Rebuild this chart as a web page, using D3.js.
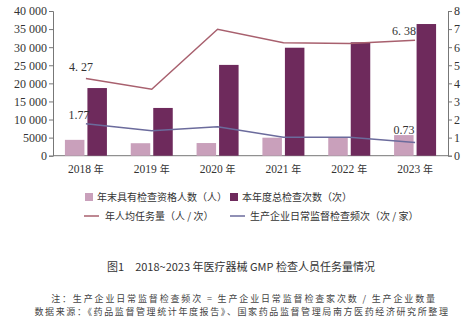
<!DOCTYPE html>
<html><head><meta charset="utf-8">
<script src="https://cdn.jsdelivr.net/npm/d3@7"></script>
<style>body{margin:0;background:#fff;} svg{display:block;}</style>
</head><body>
<svg id="c" width="465" height="326"></svg>
<script>
const years = ["2018 年","2019 年","2020 年","2021 年","2022 年","2023 年"];
const inspectors = [4380, 3450, 3500, 4980, 4980, 5700];
const inspections = [18700, 13200, 25100, 29850, 31350, 36400];
const perCapita = [4.27, 3.67, 6.99, 6.25, 6.20, 6.38];
const frequency = [1.77, 1.38, 1.60, 1.02, 1.02, 0.73];
const leftTicks = [0,5000,10000,15000,20000,25000,30000,35000,40000];
const rightTicks = [0,1,2,3,4,5,6,7,8];

const svg = d3.select("#c");
const L = 53, R = 448, T = 11, B = 155.7;
const serif = "Liberation Serif, DejaVu Serif, serif";
const cjk = "Noto Sans CJK SC, Noto Sans, sans-serif";
const cLight = "#c9a0bb", cDark = "#6e2a5c", cRed = "#a8606e", cBlue = "#6b6b9c", axisC = "#777";

const x = d3.scaleBand().domain(years).range([L, R]).padding(0);
const yL = d3.scaleLinear().domain([0, 40000]).range([B, T]);
const yR = d3.scaleLinear().domain([0, 8]).range([B, T]);

const fmt = v => v >= 10000 ? d3.format(",")(v).replace(",", " ") : String(v);

// left axis
const gl = svg.append("g").attr("transform", `translate(${L},0)`)
  .call(d3.axisLeft(yL).tickValues(leftTicks).tickSize(4).tickFormat(fmt));
gl.attr("font-family", serif);
gl.select(".domain").attr("stroke", axisC);
gl.selectAll(".tick line").attr("stroke", axisC);
gl.selectAll("text").style("font-family", serif).attr("font-size", 12).attr("fill", "#333").attr("x", -6);

// right axis
const gr = svg.append("g").attr("transform", `translate(${R},0)`)
  .call(d3.axisRight(yR).tickValues(rightTicks).tickSize(4));
gr.attr("font-family", serif);
gr.select(".domain").attr("stroke", axisC);
gr.selectAll(".tick line").attr("stroke", axisC);
gr.selectAll("text").style("font-family", serif).attr("font-size", 12).attr("fill", "#333").attr("x", 6);

// bottom axis
const gb = svg.append("g").attr("transform", `translate(0,${B})`)
  .call(d3.axisBottom(x).tickSize(0).tickPadding(9));
gb.attr("font-family", serif);
gb.select(".domain").attr("stroke", axisC).attr("d", `M${L},0H${R}`);
gb.selectAll("text").attr("font-size", 11.5).attr("fill", "#333");
gb.selectAll("text").each(function(d){
  const t = d3.select(this); const parts = d.split(" ");
  t.text(null);
  t.append("tspan").style("font-family", serif).text(parts[0] + " ");
  t.append("tspan").style("font-family", cjk).attr("font-size", 10).text(parts[1]);
});

const bw = 19.5;
const cx = d => x(d) + x.bandwidth() / 2;
svg.append("g").selectAll("rect").data(years).join("rect")
  .attr("x", d => cx(d) - 21).attr("width", bw)
  .attr("y", (d,i) => yL(inspectors[i])).attr("height", (d,i) => B - yL(inspectors[i]))
  .attr("fill", cLight);
svg.append("g").selectAll("rect").data(years).join("rect")
  .attr("x", d => cx(d) + 1.5).attr("width", bw)
  .attr("y", (d,i) => yL(inspections[i])).attr("height", (d,i) => B - yL(inspections[i]))
  .attr("fill", cDark);

const line = arr => d3.line().x((d,i) => cx(years[i])).y(d => yR(d))(arr);
svg.append("path").attr("d", line(perCapita)).attr("fill", "none").attr("stroke", cRed).attr("stroke-width", 1.5);
svg.append("path").attr("d", line(frequency)).attr("fill", "none").attr("stroke", cBlue).attr("stroke-width", 1.5);

// value labels
const lab = (txt, xx, yy) => svg.append("text").attr("x", xx).attr("y", yy)
  .style("font-family", serif).attr("font-size", 12).attr("fill", "#333").attr("text-anchor", "middle").text(txt);
lab(d3.format(".2f")(perCapita[0]).replace(".", ". "), cx(years[0]) - 5, yR(perCapita[0]) - 7);
lab(d3.format(".2f")(frequency[0]), cx(years[0]) - 7, yR(frequency[0]) - 5);
lab(d3.format(".2f")(perCapita[5]).replace(".", ". "), cx(years[5]) - 11, yR(perCapita[5]) - 5);
lab(d3.format(".2f")(frequency[5]), cx(years[5]) - 11, yR(frequency[5]) - 8);

// legend
const lg = svg.append("g").style("font-family", cjk).attr("font-size", 10).attr("fill", "#333");
lg.append("rect").attr("x", 85).attr("y", 193).attr("width", 8).attr("height", 8).attr("fill", cLight);
lg.append("text").attr("x", 97).attr("y", 201).text("年末具有检查资格人数（人）");
lg.append("rect").attr("x", 230).attr("y", 193).attr("width", 8).attr("height", 8).attr("fill", cDark);
lg.append("text").attr("x", 242).attr("y", 201).text("本年度总检查次数（次）");
lg.append("line").attr("x1", 84).attr("x2", 99).attr("y1", 216).attr("y2", 216).attr("stroke", cRed).attr("stroke-width", 1.5);
lg.append("text").attr("x", 105).attr("y", 220).text("年人均任务量（人 / 次）");
lg.append("line").attr("x1", 230).attr("x2", 245).attr("y1", 216).attr("y2", 216).attr("stroke", cBlue).attr("stroke-width", 1.5);
lg.append("text").attr("x", 250).attr("y", 220).text("生产企业日常监督检查频次（次 / 家）");

// caption
svg.append("text").attr("x", 241).attr("y", 271).attr("text-anchor", "middle")
  .style("font-family", cjk).attr("font-size", 11).attr("fill", "#333")
  .text("图1　2018~2023 年医疗器械 GMP 检查人员任务量情况");
svg.append("text").attr("x", 244).attr("y", 302).attr("text-anchor", "middle")
  .style("font-family", cjk).attr("font-size", 9).attr("fill", "#444").attr("letter-spacing", 1.85)
  .text("注：生产企业日常监督检查频次 = 生产企业日常监督检查家次数 / 生产企业数量");
svg.append("text").attr("x", 242).attr("y", 315).attr("text-anchor", "middle")
  .style("font-family", cjk).attr("font-size", 9).attr("fill", "#444").attr("letter-spacing", 1.6)
  .text("数据来源：《药品监督管理统计年度报告》、国家药品监督管理局南方医药经济研究所整理");
</script>
</body></html>
